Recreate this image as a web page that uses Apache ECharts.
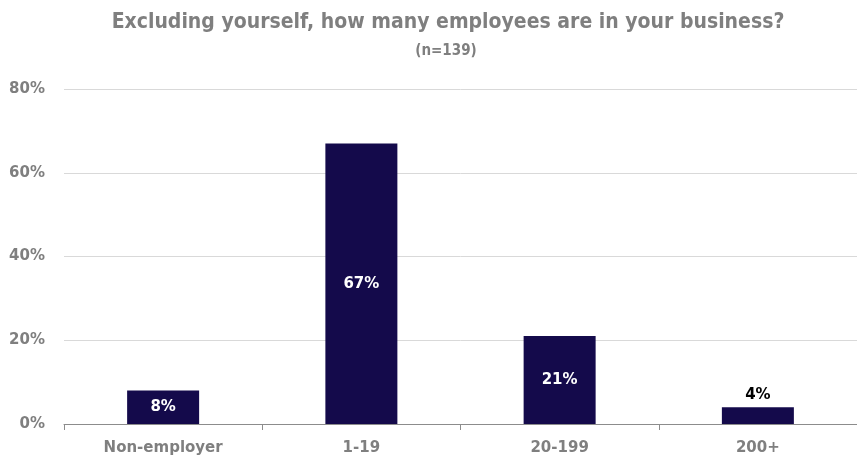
<!DOCTYPE html>
<html>
<head>
<meta charset="utf-8">
<script src="https://cdn.jsdelivr.net/npm/echarts@6/dist/echarts.min.js"></script>
<style>
  html, body { margin: 0; padding: 0; background: #fff; }
  #chart { width: 857px; height: 461px; }
</style>
</head>
<body>
<div id="chart"></div>
<script>
// Employee-count groups and share of respondents (%)
const categories = ['Non-employer', '1-19', '20-199', '200+'];
const shares = [8, 67, 21, 4];
const yTicks = [0, 20, 40, 60, 80];

const titleText = 'Excluding yourself, how many employees are in your business?';
const subtitleText = '(n=139)';

const headFont = '"DejaVu Sans Condensed", "Liberation Sans Narrow", sans-serif';
const bodyFont = '"DejaVu Sans", Verdana, sans-serif';

const chart = echarts.init(document.getElementById('chart'), null, { renderer: 'canvas' });

const barData = shares.map((v) => {
  // The shortest bar carries its label above the bar in dark text
  if (v < 5) {
    return { value: v, label: { position: 'top', color: '#000000', distance: 5 } };
  }
  return v;
});

chart.setOption({
  animation: false,
  backgroundColor: '#ffffff',
  title: [{
    text: titleText,
    left: 443,
    textAlign: 'center',
    top: 7,
    textStyle: {
      fontFamily: headFont,
      fontWeight: 'bold',
      fontSize: 21,
      color: '#7f7f7f'
    }
  }, {
    text: subtitleText,
    left: 441,
    textAlign: 'center',
    top: 39,
    textStyle: {
      fontFamily: headFont,
      fontWeight: 'bold',
      fontSize: 15,
      color: '#7f7f7f'
    }
  }],
  grid: {
    left: 64,
    top: 89,
    bottom: 37,
    width: 806,
    containLabel: false
  },
  xAxis: {
    type: 'category',
    data: categories,
    axisLine: { show: true, lineStyle: { color: '#8c8c8c', width: 1 } },
    axisTick: { show: true, length: 6, alignWithLabel: false, lineStyle: { color: '#8c8c8c' } },
    axisLabel: {
      margin: 17,
      fontFamily: bodyFont,
      fontWeight: 'bold',
      fontSize: 15,
      color: '#7f7f7f'
    }
  },
  yAxis: {
    type: 'value',
    min: yTicks[0],
    max: yTicks[yTicks.length - 1],
    interval: 20,
    axisLine: { show: false },
    axisTick: { show: false },
    splitLine: { lineStyle: { color: '#d9d9d9', width: 1 } },
    axisLabel: {
      margin: 19,
      formatter: '{value}%',
      fontFamily: bodyFont,
      fontWeight: 'bold',
      fontSize: 15,
      color: '#7f7f7f'
    }
  },
  series: [{
    type: 'bar',
    data: barData,
    barWidth: 72,
    itemStyle: { color: '#140a4b' },
    label: {
      show: true,
      position: 'inside',
      formatter: '{c}%',
      fontFamily: bodyFont,
      fontWeight: 'bold',
      fontSize: 15,
      color: '#ffffff'
    }
  }]
});
</script>
</body>
</html>
